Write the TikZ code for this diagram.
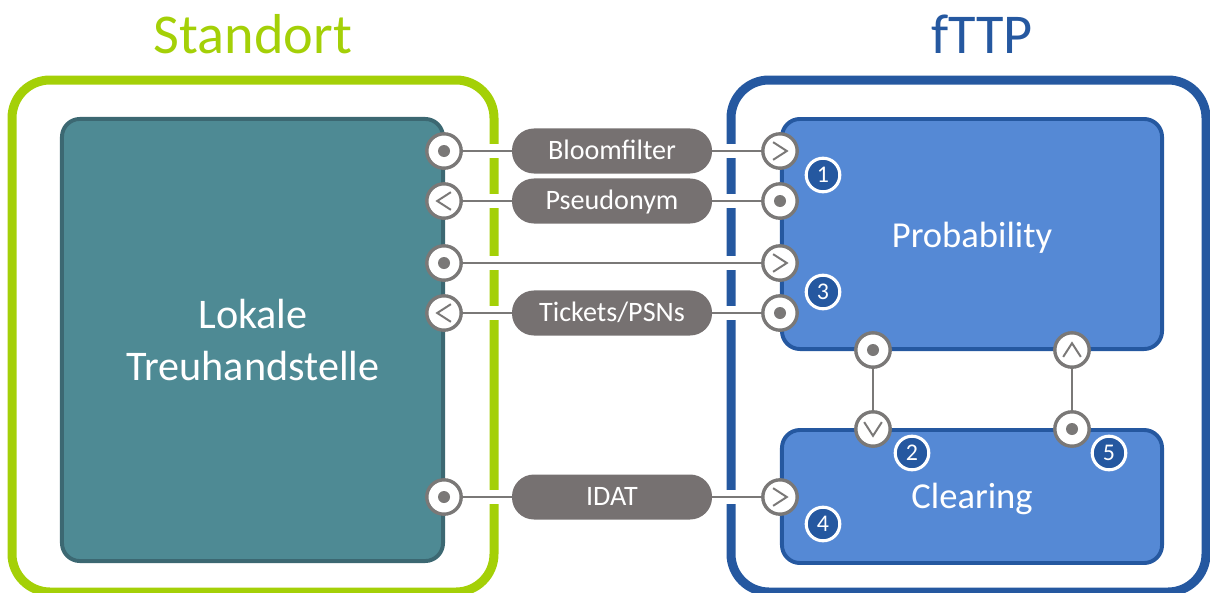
\documentclass[tikz,border=0pt]{standalone}
\usepackage{fontspec}
\setmainfont{Carlito}
\usetikzlibrary{backgrounds}
\definecolor{stdgreen}{HTML}{A4D007}
\definecolor{tppblue}{HTML}{2558A0}
\definecolor{boxblue}{HTML}{5589D5}
\definecolor{boxteal}{HTML}{4E8A94}
\definecolor{tealedge}{HTML}{3C6872}
\definecolor{pillgray}{HTML}{767171}
\definecolor{portgray}{HTML}{7A7877}
\tikzset{
  frame/.style={line width=6.4pt, rounded corners=0.95cm},
  ltsbox/.style={fill=boxteal, draw=tealedge, line width=2.8pt, rounded corners=0.45cm,
    minimum width=9.525cm, minimum height=11.05cm},
  tppbox/.style={fill=boxblue, draw=tppblue, line width=2.8pt, rounded corners=0.45cm,
    minimum width=9.5cm},
  boxlabel/.style={text=white, font=\fontsize{26}{30}\selectfont, anchor=base},
  title/.style={font=\fontsize{40}{44}\selectfont, anchor=base},
  port/.style={circle, draw=portgray, line width=2.4pt, fill=white,
    minimum size=0.86cm, inner sep=0pt},
  dotport/.style={port, path picture={
    \fill[portgray] (path picture bounding box.center) circle (0.15cm);}},
  chevport/.style={port, path picture={
    \draw[portgray, line width=1.4pt]
      ([shift={({#1+128}:0.28cm)}]path picture bounding box.center)
      -- ([shift={(#1:0.17cm)}]path picture bounding box.center)
      -- ([shift={({#1-128}:0.28cm)}]path picture bounding box.center);}},
  pill/.style={fill=pillgray, rounded corners=0.55cm, minimum width=5cm,
    minimum height=1.125cm, text=white, font=\fontsize{20}{23}\selectfont,
    text height=12.6pt, text depth=0pt},
  badge/.style={circle, fill=tppblue, draw=white, line width=2.2pt, minimum size=0.84cm,
    inner sep=0pt, text=white, font=\fontsize{17}{17}\selectfont},
  link/.style={draw=portgray, line width=2.1pt, preaction={draw=white, line width=10pt}}
}
\begin{document}
\begin{tikzpicture}[x=0.025cm, y=-0.025cm]
\useasboundingbox (0,0) rectangle (1210,592);

% titles
\node[title, text=stdgreen] (standort) at (253,53) {Standort};
\node[title, text=tppblue] (fttp) at (982,53) {fTTP};

% boxes
\node[ltsbox] (lts) at (252.5,340) {};
\node[tppbox, minimum height=5.75cm] (prob) at (972,234) {};
\node[tppbox, minimum height=3.325cm] (clear) at (972,496.5) {};
\node[boxlabel, font=\fontsize{30}{34}\selectfont] (lts1) at (253,328) {Lokale};
\node[boxlabel, font=\fontsize{30}{34}\selectfont] (lts2) at (253,380) {Treuhandstelle};
\node[boxlabel] (problabel) at (972,247) {Probability};
\node[boxlabel] (clearlabel) at (972,508) {Clearing};

% ports left
\node[dotport] (l1) at (444,151) {};
\node[chevport=180] (l2) at (444,201) {};
\node[dotport] (l3) at (444,263) {};
\node[chevport=180] (l4) at (444,313) {};
\node[dotport] (l5) at (444,497) {};
% ports right
\node[chevport=0] (r1) at (780,151) {};
\node[dotport] (r2) at (780,201) {};
\node[chevport=0] (r3) at (780,263) {};
\node[dotport] (r4) at (780,313) {};
\node[chevport=0] (r5) at (780,497) {};
% ports between probability and clearing
\node[dotport] (pa) at (873,350) {};
\node[chevport=90] (pb) at (1072,350) {};
\node[chevport=-90] (ca) at (873,429) {};
\node[dotport] (cb) at (1072,429) {};

% pills
\node[pill] (bloom) at (612,151) {Bloomfilter};
\node[pill] (pseudo) at (612,201) {Pseudonym};
\node[pill] (tickets) at (612,313) {Tickets/PSNs};
\node[pill] (idat) at (612,497) {IDAT};

% step numbers
\node[badge] (n1) at (823,175) {1};
\node[badge] (n3) at (823,292) {3};
\node[badge] (n2) at (912,453) {2};
\node[badge] (n5) at (1109,453) {5};
\node[badge] (n4) at (823,524) {4};

\begin{scope}[on background layer]
\draw[frame, draw=stdgreen] (12,80) rectangle (494,592);
\draw[frame, draw=tppblue] (731,80) rectangle (1206,592);
\draw[link] (l1) -- (bloom) -- (r1);
\draw[link] (l2) -- (pseudo) -- (r2);
\draw[link] (l3) -- (r3);
\draw[link] (l4) -- (tickets) -- (r4);
\draw[link] (l5) -- (idat) -- (r5);
\draw[link] (pa) -- (ca);
\draw[link] (pb) -- (cb);
\end{scope}
\end{tikzpicture}
\end{document}
